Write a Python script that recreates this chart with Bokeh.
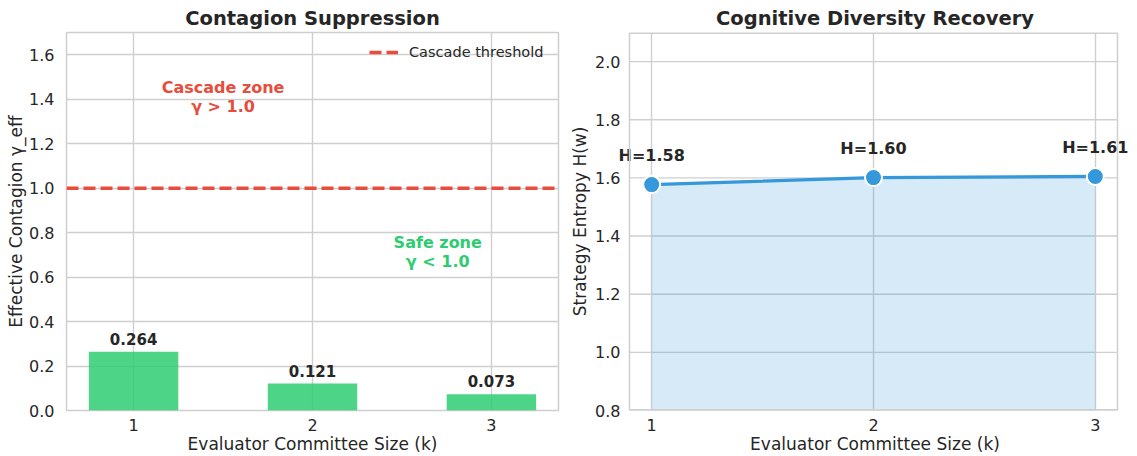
from bokeh.plotting import figure
from bokeh.layouts import row
from bokeh.models import (Range1d, FixedTicker, Legend, LegendItem,
                          PrintfTickFormatter)
from bokeh.core.properties import value
from bokeh.embed import file_html
from bokeh.resources import INLINE

# ---- data ----
committee_k = [1, 2, 3]
gamma_eff = [0.264, 0.121, 0.073]
gamma_labels = ["0.264", "0.121", "0.073"]
gamma_ticks = [0.0, 0.2, 0.4, 0.6, 0.8, 1.0, 1.2, 1.4, 1.6]
cascade_threshold = 1.0
entropy = [1.577, 1.601, 1.605]
entropy_labels = ["H=1.58", "H=1.60", "H=1.61"]
entropy_ticks = [0.8, 1.0, 1.2, 1.4, 1.6, 1.8, 2.0]

FONT = "DejaVu Sans"
TXT = "#262626"
GRID = "#cfcfcf"
RED = "#e74c3c"
GREEN = "#2ecc71"
BLUE = "#3498db"


def style(p):
    p.title.text_font = FONT
    p.title.text_font_size = "19.5px"
    p.title.text_font_style = "bold"
    p.title.text_color = TXT
    p.title.align = "center"
    p.title.offset = 0
    p.title.standoff = 6
    p.outline_line_color = GRID
    p.outline_line_width = 1.5
    p.background_fill_color = "white"
    p.border_fill_color = "white"
    for ax in (p.xaxis, p.yaxis):
        ax.axis_line_color = None
        ax.major_tick_line_color = None
        ax.minor_tick_line_color = None
        ax.major_label_text_font = FONT
        ax.major_label_text_font_size = "16px"
        ax.major_label_text_color = TXT
        ax.axis_label_text_font = FONT
        ax.axis_label_text_font_size = "17px"
        ax.axis_label_text_font_style = "normal"
        ax.axis_label_text_color = TXT
    p.xaxis.major_label_standoff = 2
    p.yaxis.major_label_standoff = 6
    p.xaxis.axis_label_standoff = 0
    p.yaxis.axis_label_standoff = 0
    p.xgrid.grid_line_color = GRID
    p.ygrid.grid_line_color = GRID
    p.xgrid.grid_line_width = 1.4
    p.ygrid.grid_line_width = 1.4


H = 456

# ---- left panel ----
p1 = figure(width=563, height=H, output_backend="svg", toolbar_location=None,
            title="Contagion Suppression",
            x_range=Range1d(0.625, 3.375), y_range=Range1d(0, 1.7),
            min_border_left=66, min_border_right=5, min_border_top=32,
            min_border_bottom=46)
style(p1)
p1.xaxis.ticker = FixedTicker(ticks=committee_k)
p1.yaxis.ticker = FixedTicker(ticks=gamma_ticks)
p1.yaxis.formatter = PrintfTickFormatter(format="%.1f")
p1.xaxis.axis_label = "Evaluator Committee Size (k)"
p1.yaxis.axis_label = "Effective Contagion γ_eff"

p1.vbar(x=committee_k, top=gamma_eff, width=0.5, bottom=0,
        fill_color=GREEN, fill_alpha=0.85, line_color=None)
p1.text(x=committee_k, y=gamma_eff, text=gamma_labels,
        text_font=value(FONT), text_font_size="15px", text_font_style="bold",
        text_color=TXT, text_align="center", text_baseline="middle", y_offset=-13)

thr = p1.line(x=[0.625, 3.375], y=[cascade_threshold, cascade_threshold],
              line_color=RED, line_width=3.5, line_dash="12 5")
legend = Legend(items=[LegendItem(label="Cascade threshold", renderers=[thr])],
                location="top_right")
legend.border_line_color = None
legend.background_fill_alpha = 0.0
legend.label_text_font = FONT
legend.label_text_font_size = "14.5px"
legend.label_text_color = TXT
legend.glyph_width = 29
legend.glyph_height = 14
legend.padding = 2
legend.margin = 12
legend.label_standoff = 11
legend.label_width = 137
p1.add_layout(legend)

p1.text(x=[1.5, 1.5], y=[1.4, 1.4], text=["Cascade zone", "γ > 1.0"],
        y_offset=[-12, 7],
        text_font=value(FONT), text_font_size="16px", text_font_style="bold",
        text_color=RED, text_align="center", text_baseline="middle")
p1.text(x=[2.7, 2.7], y=[0.7, 0.7], text=["Safe zone", "γ < 1.0"],
        y_offset=[-12, 7],
        text_font=value(FONT), text_font_size="16px", text_font_style="bold",
        text_color=GREEN, text_align="center", text_baseline="middle")

# ---- right panel ----
# visible box spans x 0.9..3.1; the frame is a little wider so the
# value labels at the ends are not clipped.
BOX_X0, BOX_X1 = 0.9, 3.1
Y0, Y1 = 0.8, 2.1
px_per_unit = 488 / (BOX_X1 - BOX_X0)
x_start = BOX_X0 - 13 / px_per_unit
x_end = x_start + 517 / px_per_unit

p2 = figure(width=574, height=H, output_backend="svg", toolbar_location=None,
            title="Cognitive Diversity Recovery",
            x_range=Range1d(x_start, x_end), y_range=Range1d(Y0, Y1),
            min_border_left=53, min_border_right=4, min_border_top=32,
            min_border_bottom=46)
style(p2)
p2.outline_line_color = None
p2.ygrid.visible = False
p2.yaxis.major_label_standoff = -10
p2.yaxis.axis_label_standoff = 2
p2.xaxis.ticker = FixedTicker(ticks=committee_k)
p2.yaxis.ticker = FixedTicker(ticks=entropy_ticks)
p2.yaxis.formatter = PrintfTickFormatter(format="%.1f")
p2.xaxis.axis_label = "Evaluator Committee Size (k)"
p2.yaxis.axis_label = "Strategy Entropy H(w)"

# horizontal grid lines limited to the box
p2.segment(x0=[BOX_X0] * len(entropy_ticks), x1=[BOX_X1] * len(entropy_ticks),
           y0=entropy_ticks, y1=entropy_ticks, line_color=GRID, line_width=1.4)

p2.varea(x=committee_k, y1=[0.0] * len(committee_k), y2=entropy,
         fill_color=BLUE, fill_alpha=0.2)
p2.line(x=committee_k, y=entropy, line_color=BLUE, line_width=3.3)
p2.scatter(x=committee_k, y=entropy, size=17, fill_color=BLUE,
           line_color="white", line_width=2)
p2.text(x=committee_k, y=entropy, text=entropy_labels, y_offset=-29,
        text_font=value(FONT), text_font_size="16px", text_font_style="bold",
        text_color=TXT, text_align="center", text_baseline="middle")

# box edges (spines)
p2.segment(x0=[BOX_X0, BOX_X1], x1=[BOX_X0, BOX_X1], y0=[Y0, Y0], y1=[Y1, Y1],
           line_color=GRID, line_width=1.5)
p2.segment(x0=[BOX_X0, BOX_X0], x1=[BOX_X1, BOX_X1], y0=[Y0, Y1], y1=[Y0, Y1],
           line_color=GRID, line_width=3)

layout = row(p1, p2)
open("out.html", "w").write(file_html(layout, INLINE))
